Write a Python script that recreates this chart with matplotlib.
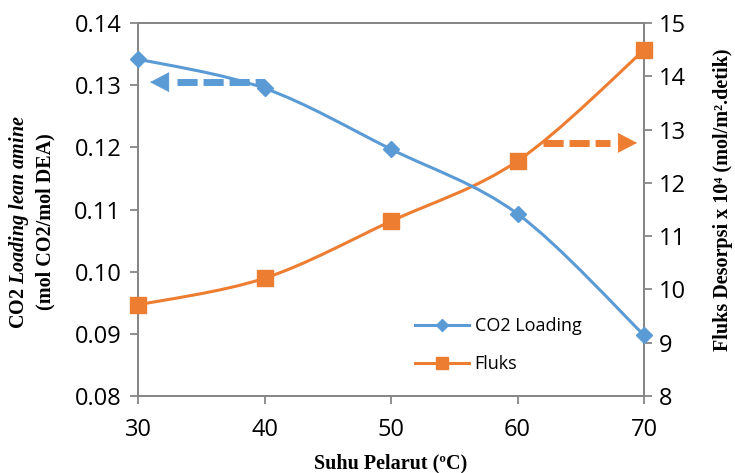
import numpy as np
import matplotlib
matplotlib.use("Agg")
import matplotlib.pyplot as plt
from matplotlib.path import Path
from matplotlib.patches import PathPatch
from matplotlib.lines import Line2D

# Data
suhu = [30, 40, 50, 60, 70]
co2_loading = [0.1342, 0.1295, 0.1197, 0.1093, 0.0898]
fluks = [9.71, 10.21, 11.28, 12.41, 14.49]

x_ticks = [30, 40, 50, 60, 70]
left_ticks = [0.08, 0.09, 0.10, 0.11, 0.12, 0.13, 0.14]
right_ticks = [8, 9, 10, 11, 12, 13, 14, 15]

BLUE = "#5B9BD5"
ORANGE = "#ED7D31"
GREY = "#868686"

plt.rcParams["mathtext.fontset"] = "custom"
plt.rcParams["mathtext.it"] = "Liberation Serif:bold:italic"
plt.rcParams["mathtext.rm"] = "Liberation Serif:bold"
plt.rcParams["mathtext.bf"] = "Liberation Serif:bold"

TICK_FONT = "Open Sans"
LABEL_SIZE = 14.5


def smooth_path(xs, ys, ax, tension=1 / 6):
    """Smoothed (Catmull-Rom style) Bezier path through points, built in display space."""
    pts = ax.transData.transform(np.column_stack([xs, ys]))
    n = len(pts)
    verts = [pts[0]]
    codes = [Path.MOVETO]
    for i in range(n - 1):
        p0 = pts[i - 1] if i > 0 else pts[i]
        p1 = pts[i]
        p2 = pts[i + 1]
        p3 = pts[i + 2] if i + 2 < n else pts[i + 1]
        c1 = p1 + (p2 - p0) * tension
        c2 = p2 - (p3 - p1) * tension
        verts += [c1, c2, p2]
        codes += [Path.CURVE4] * 3
    return Path(verts, codes)


def dashed_arrow(ax, x_start, x_end, x_head_base, x_tip, y, color):
    """Thick dashed shaft plus a solid triangular head."""
    ax.plot([x_start, x_end], [y, y], color=color, lw=5,
            linestyle=(0, (2.9, 0.85)), dash_capstyle="butt",
            zorder=7, clip_on=False)
    ax.annotate("", xy=(x_tip, y), xytext=(x_head_base, y),
                arrowprops=dict(arrowstyle="-|>,head_length=0.65,head_width=0.34",
                                mutation_scale=20, color=color, lw=0.5,
                                shrinkA=0, shrinkB=0), zorder=7)


fig = plt.figure(figsize=(7.35, 4.73), dpi=100)
ax = fig.add_axes([138 / 735, 1 - 396 / 473, (644 - 138) / 735, (396 - 23) / 473])
ax2 = ax.twinx()

ax.set_xlim(30, 70)
ax.set_ylim(0.08, 0.14)
ax2.set_ylim(8, 15)
ax.set_xticks(x_ticks)
ax.set_yticks(left_ticks)
ax.set_yticklabels([f"{v:.2f}" for v in left_ticks])
ax2.set_yticks(right_ticks)

for a in (ax, ax2):
    for s in a.spines.values():
        s.set_color(GREY)
        s.set_linewidth(1.3)
    a.tick_params(colors=GREY, labelcolor="black", length=6, width=1.3,
                  labelsize=17, direction="out")
    for lbl in a.get_xticklabels() + a.get_yticklabels():
        lbl.set_fontfamily(TICK_FONT)
ax.tick_params(axis="x", pad=10)
ax.tick_params(axis="y", pad=6)
ax2.tick_params(axis="y", pad=5)

fig.canvas.draw()

# Smoothed series lines
ax2.add_patch(PathPatch(smooth_path(suhu, fluks, ax2), transform=None,
                        fill=False, edgecolor=ORANGE, linewidth=2.2, zorder=3))
ax2.plot(suhu, fluks, linestyle="none", marker="s", markersize=11,
         color=ORANGE, zorder=4, clip_on=False)
ax2.add_patch(PathPatch(smooth_path(suhu, co2_loading, ax), transform=None,
                        fill=False, edgecolor=BLUE, linewidth=2.2, zorder=5))
co2_on_ax2 = ax2.transData.inverted().transform(
    ax.transData.transform(np.column_stack([suhu, co2_loading])))[:, 1]
ax2.plot(suhu, co2_on_ax2, linestyle="none", marker="D", markersize=8.5,
         color=BLUE, zorder=6, clip_on=False)

# Dashed arrows pointing to the relevant axis
dashed_arrow(ax2, 33.1, 40.0, 32.4, 30.95, 13.89, BLUE)
dashed_arrow(ax2, 62.0, 67.3, 67.95, 69.45, 12.75, ORANGE)

# Legend
handles = [Line2D([], [], color=BLUE, lw=2.2, marker="D", markersize=6),
           Line2D([], [], color=ORANGE, lw=2.2, marker="s", markersize=8)]
leg = ax2.legend(handles, ["CO2 Loading", "Fluks"], loc="center left",
                 bbox_to_anchor=((415 - 138) / 506, 1 - (345 - 23) / 373),
                 frameon=False, handlelength=3.0, handletextpad=0.3,
                 labelspacing=1.1, borderpad=0, borderaxespad=0,
                 prop={"family": TICK_FONT, "size": 13})

# Axis titles
ax.set_xlabel("Suhu Pelarut (ºC)", fontfamily="Liberation Serif",
              fontweight="bold", fontsize=LABEL_SIZE, labelpad=8)
fig.text(19 / 735, 1 - 222 / 473, r"CO2 $\mathit{Loading\ lean\ amine}$",
         rotation=90, ha="center", va="center", fontfamily="Liberation Serif",
         fontweight="bold", fontsize=LABEL_SIZE)
fig.text(45 / 735, 1 - 222 / 473, "(mol CO2/mol DEA)",
         rotation=90, ha="center", va="center", fontfamily="Liberation Serif",
         fontweight="bold", fontsize=LABEL_SIZE)
fig.text(723 / 735, 1 - 200 / 473, "Fluks Desorpsi x 10⁴ (mol/m².detik)",
         rotation=90, ha="center", va="center", fontfamily="Liberation Serif",
         fontweight="bold", fontsize=LABEL_SIZE)

fig.savefig("out.png", dpi=100)
